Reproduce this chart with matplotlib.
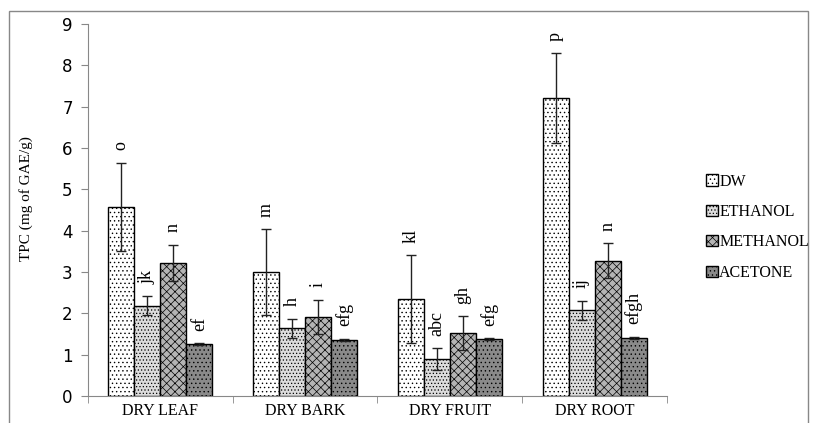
import numpy as np
import matplotlib.pyplot as plt
from matplotlib.patches import Rectangle

categories = ['DRY LEAF', 'DRY BARK', 'DRY FRUIT', 'DRY ROOT']
solvents = ['DW', 'ETHANOL', 'METHANOL', 'ACETONE']

dw = [4.57, 2.99, 2.35, 7.21]
ethanol = [2.18, 1.64, 0.89, 2.08]
methanol = [3.22, 1.92, 1.52, 3.27]
acetone = [1.26, 1.35, 1.38, 1.41]

dw_err = [1.07, 1.04, 1.06, 1.08]
ethanol_err = [0.23, 0.23, 0.26, 0.23]
methanol_err = [0.44, 0.41, 0.41, 0.42]
acetone_err = [0.02, 0.03, 0.02, 0.02]

dw_lab = ['o', 'm', 'kl', 'p']
ethanol_lab = ['jk', 'h', 'abc', 'ij']
methanol_lab = ['n', 'i', 'gh', 'n']
acetone_lab = ['ef', 'efg', 'efg', 'efgh']

series = [dw, ethanol, methanol, acetone]
errors = [dw_err, ethanol_err, methanol_err, acetone_err]
letters = [dw_lab, ethanol_lab, methanol_lab, acetone_lab]

# look of each solvent (face, hatch)
styles = [('white', '....'), ('#dcdcdc', '.....'), ('#b4b4b4', 'xxxx'), ('#8a8a8a', '....')]

serif = 'Liberation Serif'
plt.rcParams['hatch.linewidth'] = 0.5

fig = plt.figure(figsize=(8.17, 4.23), dpi=100)
ax = fig.add_axes([0.1077, 0.0638, 0.7087, 0.8794])

x = np.arange(len(categories))
w = 0.18
for i, (vals, errs, labs) in enumerate(zip(series, errors, letters)):
    pos = x + (i - 1.5) * w
    face, hatch = styles[i]
    ax.bar(pos, vals, w, color=face, edgecolor='black', hatch=hatch,
           linewidth=1.0, label=solvents[i], zorder=2)
    ax.errorbar(pos, vals, yerr=errs, fmt='none', ecolor='#222222',
                elinewidth=1.0, capsize=3.5, capthick=1.0, zorder=3)
    for p, v, e, t in zip(pos, vals, errs, labs):
        ax.annotate(t, (p, v + e), xytext=(0, 9), textcoords='offset points',
                    rotation=90, ha='center', va='bottom', fontsize=13,
                    family=serif)

ax.set_xlim(-0.5, 3.5)
ax.set_ylim(0, 9)
ax.set_yticks(range(10))
ax.set_xticks(x)
ax.set_xticklabels(categories, family=serif, fontsize=11.5)
ax.set_xticks(np.arange(-0.5, 4, 1), minor=True)
ax.tick_params(axis='x', which='major', length=0, pad=5)
ax.tick_params(axis='x', which='minor', length=5, color='#888888')
ax.tick_params(axis='y', length=5, color='#888888', labelsize=12, pad=6)
ax.set_ylabel('TPC (mg of GAE/g)', family=serif, fontsize=11, labelpad=22)
ax.yaxis.set_label_coords(-0.095, 0.53)
for s in ['top', 'right']:
    ax.spines[s].set_visible(False)
for s in ['left', 'bottom']:
    ax.spines[s].set_color('#888888')

fig.legend(loc='center left', bbox_to_anchor=(0.847, 0.463), frameon=False,
           prop={'family': serif, 'size': 11.5}, handlelength=0.7,
           handleheight=0.7, handletextpad=0.1, labelspacing=0.9)

fig.patches.append(Rectangle((0.011, -0.01), 0.978, 0.984, transform=fig.transFigure,
                             fill=False, edgecolor='#888888', linewidth=1.0))

fig.savefig('out.png', dpi=100)
